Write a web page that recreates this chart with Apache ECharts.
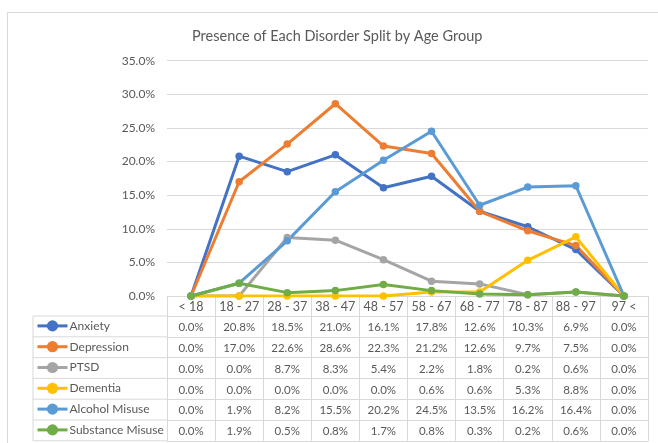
<!DOCTYPE html>
<html>
<head>
<meta charset="utf-8">
<script src="https://cdn.jsdelivr.net/npm/echarts@6/dist/echarts.min.js"></script>
<style>
html,body{margin:0;padding:0;background:#fff;}
#chart{width:658px;height:443px;}
</style>
</head>
<body>
<div id="chart"></div>
<script>
const title = 'Presence of Each Disorder Split by Age Group';
const categories = ['< 18','18 - 27','28 - 37','38 - 47','48 - 57','58 - 67','68 - 77','78 - 87','88 - 97','97 <'];
const seriesNames = ['Anxiety','Depression','PTSD','Dementia','Alcohol Misuse','Substance Misuse'];
const anxiety =    [0.0, 20.8, 18.5, 21.0, 16.1, 17.8, 12.6, 10.3, 6.9, 0.0];
const depression = [0.0, 17.0, 22.6, 28.6, 22.3, 21.2, 12.6, 9.7, 7.5, 0.0];
const ptsd =       [0.0, 0.0, 8.7, 8.3, 5.4, 2.2, 1.8, 0.2, 0.6, 0.0];
const dementia =   [0.0, 0.0, 0.0, 0.0, 0.0, 0.6, 0.6, 5.3, 8.8, 0.0];
const alcohol =    [0.0, 1.9, 8.2, 15.5, 20.2, 24.5, 13.5, 16.2, 16.4, 0.0];
const substance =  [0.0, 1.9, 0.5, 0.8, 1.7, 0.8, 0.3, 0.2, 0.6, 0.0];
const colors = ['#4472C4','#ED7D31','#A5A5A5','#FFC000','#5B9BD5','#70AD47'];
const yTicks = {min: 0, max: 35, interval: 5};

const allSeries = [anxiety, depression, ptsd, dementia, alcohol, substance];
const FONT = 'Lato, "Open Sans", sans-serif';
const TXT = '#595959';
const LINE = '#d9d9d9';
const ROW = 20.8;

const gridLeft = 167, gridRight = 10, gridTop = 60.7, gridBottom = 147;
const axisY = 443 - gridBottom;

const xAxes = [{
  type: 'category', data: categories, boundaryGap: true, gridIndex: 0,
  axisLine: {show: true, lineStyle: {color: LINE, width: 1}},
  axisTick: {show: true, interval: 0, length: ROW - 0.8, lineStyle: {color: LINE}},
  axisLabel: {interval: 0, color: TXT, fontFamily: FONT, fontSize: 12.5, margin: ROW/2 + 0.8, verticalAlign: 'middle'}
}];
allSeries.forEach((vals, k) => {
  xAxes.push({
    type: 'category', data: categories, boundaryGap: true, gridIndex: 0, position: 'bottom',
    offset: ROW * (k + 1) - 0.8,
    axisLine: {show: true, lineStyle: {color: LINE, width: 1}},
    axisTick: {show: true, interval: 0, length: ROW, lineStyle: {color: LINE}},
    axisLabel: {interval: 0, color: TXT, fontFamily: FONT, fontSize: 11.5, margin: ROW/2 + 1, verticalAlign: 'middle',
      formatter: (v, i) => vals[i].toFixed(1) + '%'}
  });
});
xAxes.push({
  type: 'category', data: categories, boundaryGap: true, gridIndex: 0, position: 'bottom',
  offset: ROW * 7 - 0.8,
  axisLine: {show: true, lineStyle: {color: LINE, width: 1}},
  axisTick: {show: false}, axisLabel: {show: false}
});

// legend column borders (table frame left of the plot)
const tableLeft = 33;
const graphics = [{
  type: 'rect', z: -1, silent: true,
  shape: {x: 7.5, y: 12.5, width: 700, height: 500},
  style: {fill: null, stroke: LINE, lineWidth: 1}
}];
for (let r = 0; r <= 6; r++) {
  const y = axisY + ROW * (r + 1) - 0.8;
  graphics.push({type: 'line', silent: true, shape: {x1: tableLeft, y1: y, x2: gridLeft, y2: y}, style: {stroke: LINE, lineWidth: 1}});
}
graphics.push({type: 'line', silent: true, shape: {x1: tableLeft, y1: axisY + ROW - 0.8, x2: tableLeft, y2: axisY + ROW * 7 - 0.8}, style: {stroke: LINE, lineWidth: 1}});

const legends = seriesNames.map((name, k) => ({
  orient: 'horizontal', left: 36, top: axisY + ROW * (k + 1) - 0.8 + ROW / 2 - 6.5,
  itemWidth: 30, itemHeight: 14, itemGap: 0, padding: 0,
  lineStyle: {width: 3},
  data: [name],
  textStyle: {color: TXT, fontFamily: FONT, fontSize: 12, padding: [0, 0, 0, -3]}
}));

const chart = echarts.init(document.getElementById('chart'), null, {renderer: 'canvas'});
chart.setOption({
  animation: false,
  backgroundColor: '#fff',
  color: colors,
  title: {
    text: title, left: 187, top: 24,
    textStyle: {color: TXT, fontFamily: FONT, fontSize: 14.5, fontWeight: 'normal'}
  },
  grid: {left: gridLeft, right: gridRight, top: gridTop, bottom: gridBottom, containLabel: false},
  legend: legends,
  xAxis: xAxes,
  yAxis: {
    type: 'value', min: yTicks.min, max: yTicks.max, interval: yTicks.interval,
    axisLine: {show: false}, axisTick: {show: false},
    splitLine: {lineStyle: {color: LINE, width: 1}},
    axisLabel: {color: TXT, fontFamily: FONT, fontSize: 12, margin: 12, formatter: v => v.toFixed(1) + '%'}
  },
  series: allSeries.map((vals, k) => ({
    name: seriesNames[k], type: 'line', xAxisIndex: 0, data: vals,
    symbol: 'circle', symbolSize: 7.5,
    lineStyle: {width: 3, color: colors[k]},
    itemStyle: {color: colors[k]}
  })),
  graphic: graphics
});
</script>
</body>
</html>
